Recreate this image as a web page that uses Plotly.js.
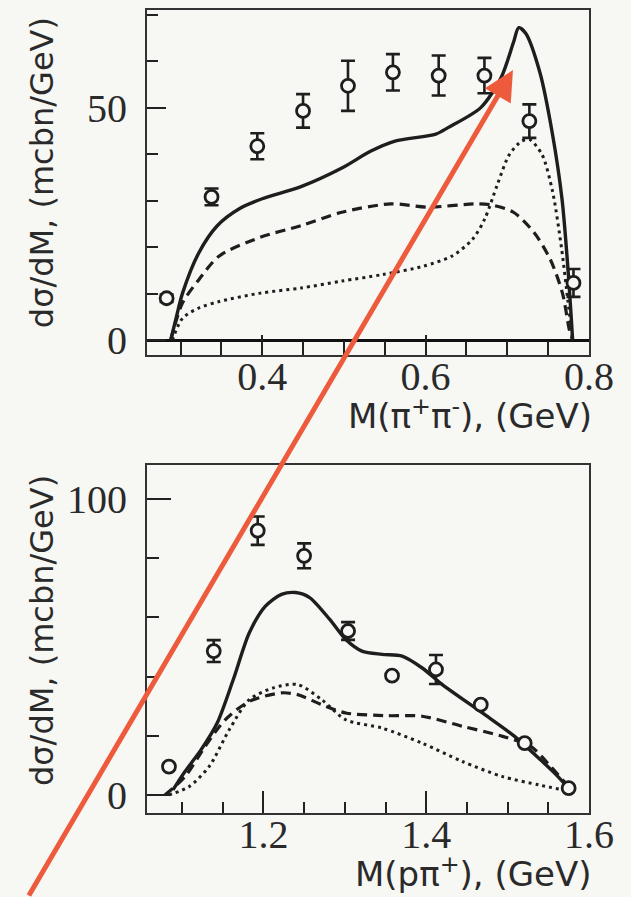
<!DOCTYPE html>
<html>
<head>
<meta charset="utf-8">
<script src="https://cdn.plot.ly/plotly-3.0.1.min.js"></script>
<style>html,body{margin:0;padding:0;background:#f7f7f4;}#chart{width:631px;height:897px;}</style>
</head>
<body>
<div id="chart"></div>
<script>
// ---- Top panel: M(pi+ pi-) ----
var topPtsX = [0.283, 0.338, 0.394, 0.450, 0.505, 0.560, 0.616, 0.672, 0.727, 0.781];
var topPtsY = [9.0, 30.8, 41.7, 49.3, 54.7, 57.6, 56.9, 56.9, 47.1, 12.3];
var topPtsErr = [0.8, 1.8, 2.8, 3.6, 5.4, 3.9, 4.3, 3.8, 3.6, 3.0];

var topSolidX = [0.288, 0.295, 0.3025, 0.3225, 0.345, 0.3725, 0.400, 0.4475, 0.4975, 0.5325, 0.5625, 0.6125, 0.6275, 0.6675, 0.6925, 0.7075, 0.714, 0.7225, 0.740, 0.755, 0.767, 0.774, 0.780];
var topSolidY = [0, 5.0, 10.1, 18.8, 24.6, 28.3, 30.4, 33.0, 37.0, 40.6, 42.8, 44.3, 45.7, 50.0, 56.5, 64.0, 67.2, 66.0, 57.5, 44.6, 30.3, 15.9, 0];

var topDashX = [0.288, 0.3025, 0.3225, 0.3475, 0.3975, 0.4475, 0.4975, 0.5575, 0.6025, 0.6625, 0.6825, 0.7075, 0.7325, 0.7525, 0.7675, 0.776, 0.780];
var topDashY = [0, 8.0, 13.0, 18.1, 22.1, 24.6, 27.5, 29.3, 28.6, 29.3, 29.0, 27.5, 23.2, 17.4, 10.1, 2.2, 0];

var topDotX = [0.290, 0.3025, 0.3225, 0.3475, 0.3975, 0.4475, 0.4975, 0.5475, 0.5975, 0.6325, 0.6575, 0.6725, 0.6875, 0.7025, 0.7175, 0.7275, 0.7425, 0.7555, 0.7665, 0.774, 0.780];
var topDotY = [0, 4.7, 6.9, 8.3, 10.1, 11.2, 12.7, 14.1, 15.9, 18.1, 21.7, 26.1, 33.3, 39.9, 42.8, 43.1, 39.9, 31.9, 19.6, 8.7, 0];

// ---- Bottom panel: M(p pi+) ----
var botPtsX = [1.084, 1.139, 1.193, 1.250, 1.304, 1.358, 1.412, 1.467, 1.521, 1.575];
var botPtsY = [9.6, 48.6, 89.3, 80.8, 55.4, 40.3, 42.4, 30.5, 17.5, 2.3];
var botPtsErr = [0, 3.7, 4.8, 4.2, 3.0, 0, 4.9, 0, 0, 0];

var botSolidX = [1.0889, 1.1037, 1.1235, 1.1432, 1.163, 1.1827, 1.2025, 1.2222, 1.2395, 1.2568, 1.2815, 1.3012, 1.321, 1.3457, 1.3704, 1.3951, 1.4198, 1.4691, 1.5086, 1.5383, 1.558, 1.5728, 1.5778];
var botSolidY = [1.7, 7.9, 15.3, 24.3, 39.0, 54.8, 63.8, 67.8, 68.4, 66.7, 59.3, 52.5, 48.6, 47.5, 46.9, 42.9, 37.3, 27.7, 19.8, 12.4, 7.3, 2.8, 0.6];

var botDashX = [1.079, 1.1037, 1.1284, 1.153, 1.1827, 1.2222, 1.242, 1.2716, 1.3012, 1.3506, 1.395, 1.4444, 1.4938, 1.5284, 1.5531, 1.5728];
var botDashY = [0, 6.2, 16.4, 25.4, 31.6, 34.5, 33.9, 30.5, 27.7, 26.8, 26.6, 23.2, 19.8, 16.4, 9.6, 3.4];

var botDotX = [1.084, 1.1086, 1.1333, 1.158, 1.1827, 1.2123, 1.242, 1.2716, 1.3012, 1.3457, 1.395, 1.4444, 1.4938, 1.5383, 1.5679];
var botDotY = [0, 2.8, 9.6, 22.0, 32.2, 36.2, 37.3, 32.2, 25.4, 22.6, 17.5, 11.3, 6.2, 3.4, 1.7];

var xTitleTop = 'M(π<sup>+</sup>π<sup>-</sup>), (GeV)';
var xTitleBot = 'M(pπ<sup>+</sup>), (GeV)';
var yTitle = 'dσ/dM, (mcbn/GeV)';

var INK = '#1e1e1e';
function curve(x, y, xa, ya, dash, w) {
  return {x: x, y: y, xaxis: xa, yaxis: ya, mode: 'lines', type: 'scatter',
    line: {color: INK, width: w, dash: dash, shape: 'spline', smoothing: 0.8},
    hoverinfo: 'skip', showlegend: false};
}
function pts(x, y, e, xa, ya) {
  return {x: x, y: y, xaxis: xa, yaxis: ya, mode: 'markers', type: 'scatter',
    error_y: {type: 'data', array: e, visible: true, color: INK, thickness: 2.6, width: 7},
    marker: {symbol: 'circle', size: 13, color: '#f7f7f4', line: {color: INK, width: 2.8}},
    showlegend: false};
}

var data = [
  curve(topDotX, topDotY, 'x', 'y', '3px,4px', 3),
  curve(topDashX, topDashY, 'x', 'y', '10px,6px', 3.2),
  curve(topSolidX, topSolidY, 'x', 'y', 'solid', 3.4),
  pts(topPtsX, topPtsY, topPtsErr, 'x', 'y'),
  curve(botDotX, botDotY, 'x2', 'y2', '3px,4px', 3),
  curve(botDashX, botDashY, 'x2', 'y2', '10px,6px', 3.2),
  curve(botSolidX, botSolidY, 'x2', 'y2', 'solid', 3.4),
  pts(botPtsX, botPtsY, botPtsErr, 'x2', 'y2')
];

var tickFont = {family: 'Liberation Serif, Times New Roman, serif', size: 40, color: '#2a2a2a'};
var titleFont = {family: 'DejaVu Sans, sans-serif', size: 34, color: '#2a2a2a'};
var axCommon = {showline: true, linecolor: '#333', linewidth: 2, mirror: true, showgrid: false,
  ticks: 'inside', tickcolor: '#222', tickwidth: 2, tickfont: tickFont};

var layout = {
  width: 631, height: 897,
  margin: {l: 147, r: 42, t: 10, b: 84},
  paper_bgcolor: '#f7f7f4', plot_bgcolor: '#f7f7f4',
  showlegend: false,
  xaxis: Object.assign({}, axCommon, {domain: [0, 1], anchor: 'y', range: [0.259, 0.8],
    tickmode: 'array', tickvals: [0.4, 0.6, 0.8], ticktext: ['0.4', '0.6', '0.8'], ticklen: 20,
    ticklabelstandoff: -15,
    minor: {ticks: 'inside', dtick: 0.05, tick0: 0, ticklen: 14, tickcolor: '#222', tickwidth: 2},
    zeroline: false}),
  yaxis: Object.assign({}, axCommon, {domain: [0.5704, 1], anchor: 'x', range: [-3.2, 71],
    tickmode: 'array', tickvals: [0, 50], ticktext: ['0', '50'], ticklen: 19,
    ticklabelstandoff: 10,
    minor: {ticks: 'inside', dtick: 10, tick0: 0, ticklen: 11, tickcolor: '#222', tickwidth: 2},
    zeroline: true, zerolinecolor: '#111', zerolinewidth: 3}),
  xaxis2: Object.assign({}, axCommon, {domain: [0, 1], anchor: 'y2', range: [1.057, 1.6],
    tickmode: 'array', tickvals: [1.2, 1.4, 1.6], ticktext: ['1.2', '1.4', '1.6'], ticklen: 22,
    ticklabelstandoff: -15,
    minor: {ticks: 'inside', dtick: 0.05, tick0: 0, ticklen: 11, tickcolor: '#222', tickwidth: 2},
    zeroline: false}),
  yaxis2: Object.assign({}, axCommon, {domain: [0, 0.4334], anchor: 'x2', range: [-6.1, 111.5],
    tickmode: 'array', tickvals: [0, 100], ticktext: ['0', '100'], ticklen: 24,
    ticklabelstandoff: 10,
    minor: {ticks: 'inside', dtick: 20, tick0: 0, ticklen: 12, tickcolor: '#222', tickwidth: 2},
    zeroline: false}),
  annotations: [
    {text: xTitleTop, xref: 'paper', yref: 'paper', x: 1, y: 0.497, xanchor: 'right', yanchor: 'middle',
      xshift: 5, showarrow: false, font: titleFont},
    {text: xTitleBot, xref: 'paper', yref: 'paper', x: 1, y: -0.0735, xanchor: 'right', yanchor: 'middle',
      xshift: 5, showarrow: false, font: titleFont},
    {text: yTitle, xref: 'paper', yref: 'paper', x: -0.2376, y: 0.798, xanchor: 'center', yanchor: 'middle',
      textangle: -90, showarrow: false, font: {family: 'DejaVu Sans, sans-serif', size: 32, color: '#2a2a2a'}},
    {text: yTitle, xref: 'paper', yref: 'paper', x: -0.2376, y: 0.2279, xanchor: 'center', yanchor: 'middle',
      textangle: -90, showarrow: false, font: {family: 'DejaVu Sans, sans-serif', size: 32, color: '#2a2a2a'}},
    {text: '', xref: 'paper', yref: 'paper', x: 0.828, y: 0.9253, showarrow: true,
      axref: 'pixel', ayref: 'pixel', ax: -485, ay: 827,
      arrowhead: 2, arrowsize: 1.2, arrowwidth: 5, arrowcolor: '#ee5b3c', standoff: 0}
  ]
};

Plotly.newPlot('chart', data, layout, {displayModeBar: false, staticPlot: true});
</script>
</body>
</html>
